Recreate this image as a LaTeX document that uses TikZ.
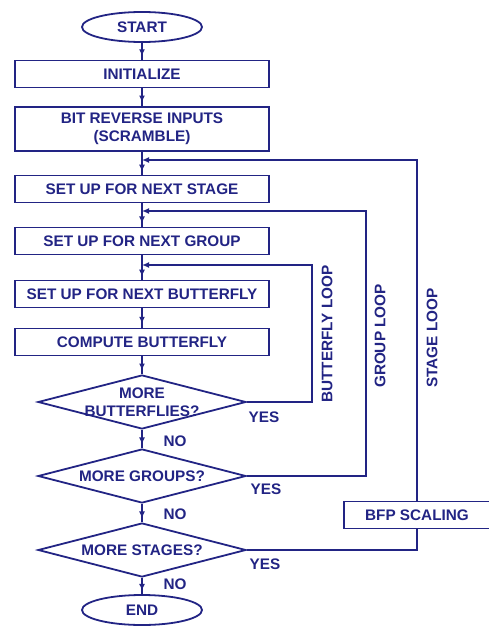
\documentclass[tikz,border=0pt]{standalone}
\usepackage{fontspec}
\setmainfont{Liberation Sans}
\usetikzlibrary{shapes, decorations.markings, arrows.meta}
\definecolor{ink}{RGB}{34,36,132}

\begin{document}
\begin{tikzpicture}[x=1pt, y=-1pt, line width=1.8pt, color=ink,
font=\fontsize{15.3}{18}\selectfont\bfseries,
term/.style={ellipse, draw, minimum width=120, minimum height=30, inner sep=0pt},
task/.style={rectangle, draw, minimum width=254, minimum height=27, inner sep=0pt, align=center},
test/.style={diamond, draw, minimum width=208, minimum height=54, inner sep=0pt, align=center},
flow/.style={decoration={markings, mark=at position 0.8 with {\arrow{Latex[length=7pt,width=6pt]}}}, postaction={decorate}},
loopback/.style={-{Latex[length=7pt,width=6pt]}},
tag/.style={inner sep=0pt}]
\useasboundingbox (0,0) rectangle (489,626);
\def\mx{142}

% main column
\node[term] (start) at (\mx,27) {START};
\node[task] (init) at (\mx,74) {INITIALIZE};
\node[task, minimum height=44] (bitrev) at (\mx,129) {BIT REVERSE INPUTS\\(SCRAMBLE)};
\node[task] (stage) at (\mx,189) {SET UP FOR NEXT STAGE};
\node[task] (group) at (\mx,241) {SET UP FOR NEXT GROUP};
\node[task] (bfly) at (\mx,294) {SET UP FOR NEXT BUTTERFLY};
\node[task] (comp) at (\mx,342) {COMPUTE BUTTERFLY};
\node[test] (mb) at (\mx,402) {\makebox[0pt]{MORE}\\\makebox[0pt]{BUTTERFLIES?}};
\node[test] (mg) at (\mx,476) {\makebox[0pt]{MORE GROUPS?}};
\node[test] (ms) at (\mx,550) {\makebox[0pt]{MORE STAGES?}};
\node[term] (end) at (\mx,610) {END};
\node[task, minimum width=146] (bfp) at (417,515) {BFP SCALING};

% junctions
\coordinate (j1) at (\mx,160);
\coordinate (j2) at (\mx,211);
\coordinate (j3) at (\mx,265);
\coordinate (gl) at (366,211);
\coordinate (bl) at (312,265);

\draw[flow] (start) -- (init);
\draw[flow] (init) -- (bitrev);
\draw (bitrev) -- (j1);
\draw[flow] (j1) -- (stage);
\draw (stage) -- (j2);
\draw[flow] (j2) -- (group);
\draw (group) -- (j3);
\draw[flow] (j3) -- (bfly);
\draw[flow] (bfly) -- (comp);
\draw[flow] (comp) -- (mb);
\draw[flow] (mb) -- (mg);
\draw[flow] (mg) -- (ms);
\draw[flow] (ms) -- (end);

% loops
\draw[loopback] (mb) -| (bl) -- (j3);
\draw[loopback] (mg) -| (gl) -- (j2);
\draw (ms) -| (bfp);
\draw[loopback] (bfp) |- (j1);

% labels
\node[tag] (yes1) at (264,417) {YES};
\node[tag] (yes2) at (266,489) {YES};
\node[tag] (yes3) at (265,564) {YES};
\node[tag] (no1) at (175,441) {NO};
\node[tag] (no2) at (175,514) {NO};
\node[tag] (no3) at (175,584) {NO};
\node[tag, rotate=90] (bloop) at (327,334) {BUTTERFLY LOOP};
\node[tag, rotate=90] (gloop) at (380,336) {GROUP LOOP};
\node[tag, rotate=90] (sloop) at (432,338) {STAGE LOOP};
\end{tikzpicture}
\end{document}
